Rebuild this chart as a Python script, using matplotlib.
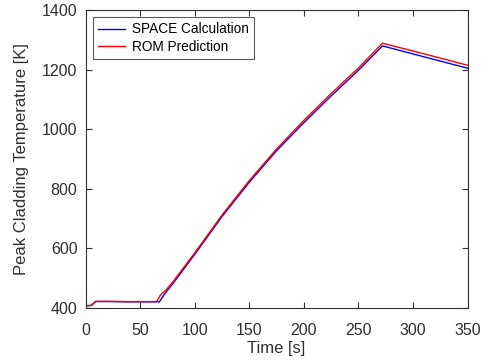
import matplotlib
matplotlib.use("Agg")
import matplotlib.pyplot as plt

plt.rcParams['font.family'] = ['Liberation Sans', 'DejaVu Sans']

# Data
space_t = [0, 5, 9, 20, 40, 60, 67.5, 72, 80, 100, 125, 150, 175, 200, 225, 250, 272, 300, 325, 350]
space_T = [407, 408, 421, 421, 420, 420, 420, 445, 482, 580, 707, 822, 928, 1022, 1112, 1198, 1280, 1253, 1229, 1205]

rom_t = [0, 5, 9, 20, 40, 60, 65, 68, 70, 73, 80, 100, 125, 150, 175, 200, 225, 250, 272, 300, 325, 350]
rom_T = [407, 408, 422, 422, 421, 421, 421, 440, 449, 457, 488, 585, 712, 828, 934, 1030, 1120, 1206, 1289, 1263, 1239, 1215]

fig = plt.figure(figsize=(4.87, 3.63), dpi=100)
ax = fig.add_axes([0.176, 0.152, 0.784, 0.820])

ax.plot(space_t, space_T, color='#0000ff', lw=1.0, label='SPACE Calculation')
ax.plot(rom_t, rom_T, color='#ff0000', lw=1.0, label='ROM Prediction')

ax.set_xlim(0, 350)
ax.set_ylim(400, 1400)
ax.set_xticks([0, 50, 100, 150, 200, 250, 300, 350])
ax.set_yticks([400, 600, 800, 1000, 1200, 1400])

ax.tick_params(direction='in', top=True, right=True, length=4, width=0.8,
               labelsize=11.5, colors='#303030')
ax.tick_params(axis='x', pad=11)
ax.tick_params(axis='y', pad=6)
for s in ax.spines.values():
    s.set_color('#303030')
    s.set_linewidth(0.8)

ax.set_xlabel('Time [s]', fontsize=12, color='#303030', labelpad=2)
ax.set_ylabel('Peak Cladding Temperature [K]', fontsize=12, color='#303030', labelpad=9)

leg = ax.legend(loc='upper left', fontsize=9.8, frameon=True, fancybox=False,
                edgecolor='#303030', handlelength=2.0, handletextpad=0.5,
                borderpad=0.4, labelspacing=0.25, borderaxespad=0.5)
leg.get_frame().set_linewidth(0.8)

fig.savefig('out.png', dpi=100)
